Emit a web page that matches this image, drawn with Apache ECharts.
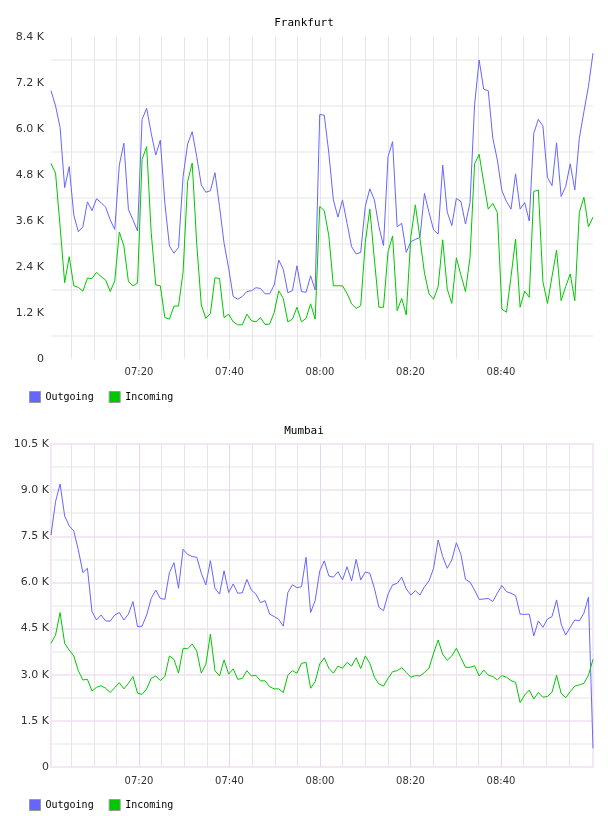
<!DOCTYPE html>
<html>
<head>
<meta charset="utf-8">
<script src="https://cdn.jsdelivr.net/npm/echarts@6/dist/echarts.min.js"></script>
<style>
  html, body { margin: 0; padding: 0; background: #fff; }
  #main { width: 608px; height: 816px; }
</style>
</head>
<body>
<div id="main"></div>
<script>
// one sample per minute, 07:00 .. 08:59
const times = [];
for (let m = 0; m < 120; m++) {
  const h = 7 + Math.floor(m / 60), mm = m % 60;
  times.push("0" + h + ":" + (mm < 10 ? "0" : "") + mm);
}
// axis labels every 20 minutes (07:00 .. 09:00)
const timeLabels = ["07:00", "07:20", "07:40", "08:00", "08:20", "08:40", "09:00"];

const frankfurtOut = [
  7000, 6600, 6040, 4470, 5020, 3760, 3320, 3450, 4100, 3870,
  4180, 4080, 3960, 3630, 3380, 5060, 5630, 3900, 3630, 3340,
  6250, 6540, 5890, 5320, 5710, 4060, 2950, 2760, 2910, 4760,
  5610, 5930, 5280, 4540, 4350, 4390, 4860, 3980, 3020, 2370,
  1630, 1560, 1630, 1760, 1780, 1860, 1840, 1700, 1700, 1930,
  2580, 2340, 1730, 1780, 2430, 1760, 1740, 2170, 1800, 6380,
  6360, 5370, 4150, 3700, 4150, 3540, 2930, 2740, 2780, 3980,
  4440, 4150, 3450, 2960, 5280, 5670, 3450, 3540, 2780, 3060,
  3120, 3170, 4320, 3820, 3370, 3260, 5060, 3830, 3480, 4190,
  4110, 3520, 4080, 6630, 7800, 7040, 7000, 5760, 5190, 4390,
  4110, 3910, 4830, 3910, 4080, 3600, 5890, 6250, 6080, 4740,
  4520, 5640, 4240, 4500, 5090, 4410, 5760, 6450, 7110, 7980
];
const frankfurtIn = [
  5100, 4850, 3450, 1990, 2670, 1910, 1870, 1770, 2110, 2100,
  2260, 2150, 2060, 1760, 2040, 3310, 2950, 2020, 1910, 1980,
  5210, 5540, 3300, 1930, 1910, 1080, 1040, 1380, 1380, 2270,
  4630, 5110, 3000, 1410, 1060, 1190, 2120, 2100, 1080, 1170,
  970, 890, 890, 1170, 1000, 970, 1080, 900, 910, 1210,
  1780, 1580, 970, 1040, 1350, 970, 1060, 1440, 1040, 3980,
  3870, 3210, 1910, 1910, 1910, 1710, 1440, 1320, 1390, 3040,
  3910, 2600, 1350, 1350, 2800, 3210, 1260, 1580, 1150, 3190,
  4020, 3150, 2240, 1700, 1560, 1890, 3110, 1820, 1450, 2640,
  2190, 1760, 2650, 5090, 5340, 4610, 3910, 4060, 3820, 1300,
  1220, 2150, 3130, 1350, 1770, 1610, 4370, 4410, 2020, 1450,
  2150, 2840, 1520, 1890, 2220, 1520, 3820, 4220, 3450, 3700
];
const mumbaiOut = [
  7540, 8630, 9200, 8160, 7840, 7670, 7060, 6320, 6460, 5050,
  4780, 4940, 4750, 4740, 4940, 5020, 4780, 4970, 5380, 4560,
  4580, 4940, 5480, 5750, 5480, 5450, 6320, 6640, 5810, 7080,
  6910, 6840, 6820, 6300, 5920, 6710, 5810, 5620, 6380, 5670,
  5950, 5650, 5660, 6100, 5750, 5620, 5340, 5410, 4970, 4890,
  4800, 4580, 5670, 5920, 5830, 5860, 6820, 5020, 5410, 6370,
  6700, 6210, 6170, 6350, 6080, 6510, 6050, 6750, 6080, 6340,
  6300, 5810, 5190, 5080, 5620, 5920, 5970, 6170, 5790, 5590,
  5730, 5590, 5860, 6050, 6460, 7380, 6840, 6460, 6730, 7290,
  6910, 6100, 6010, 5750, 5450, 5460, 5480, 5380, 5650, 5900,
  5700, 5650, 5570, 4970, 4960, 4970, 4260, 4750, 4540, 4810,
  4890, 5430, 4650, 4290, 4540, 4780, 4750, 5000, 5520, 610
];
const mumbaiIn = [
  4020, 4290, 5020, 4020, 3800, 3610, 3130, 2830, 2850, 2470,
  2590, 2640, 2560, 2420, 2580, 2740, 2540, 2720, 2940, 2400,
  2360, 2540, 2880, 2960, 2810, 2940, 3610, 3500, 3050, 3860,
  3840, 4000, 3770, 3050, 3340, 4320, 3130, 2960, 3480, 3020,
  3190, 2850, 2880, 3130, 2960, 2980, 2800, 2800, 2610, 2540,
  2540, 2420, 2980, 3130, 3050, 3370, 3400, 2560, 2770, 3350,
  3550, 3210, 3050, 3280, 3210, 3400, 3280, 3550, 3200, 3610,
  3370, 2920, 2700, 2630, 2880, 3100, 3130, 3230, 3070, 2920,
  2970, 2960, 3070, 3210, 3700, 4130, 3660, 3470, 3610, 3860,
  3550, 3240, 3240, 3290, 2960, 3150, 2990, 2940, 2830, 2970,
  2920, 2810, 2750, 2090, 2340, 2500, 2210, 2420, 2270, 2290,
  2430, 2980, 2400, 2250, 2450, 2630, 2670, 2720, 2980, 3500
];

const BLUE = "#6666ff";
const GREEN = "#00c800";
const GRAY_V = "#e6e6e6";
const GRAY_H = "#f2f2f2";
const PINK = "#f3e7f3";
const PINK_V = "#e8d6e8";
const labelFont = "DejaVu Sans";
const monoFont = "DejaVu Sans Mono";

function kLabel(step) {
  return function (v) {
    if (v % step !== 0) return "";
    if (v === 0) return "0";
    return (v / 1000).toFixed(1) + " K";
  };
}

// grid 0/2: time axes (gridlines + labels), grid 1/3: data
const tops = [37, 444];
const heights = [322, 323];

function axesFor(k, pink) {
  const g = k * 2;
  return {
    x: [
      {
        gridIndex: g, type: "value", min: 0, max: 120, interval: 5, position: "bottom",
        axisLine: { show: false }, axisTick: { show: false }, axisLabel: { show: false },
        splitLine: { show: true, showMinLine: false, showMaxLine: false,
          lineStyle: { color: GRAY_V, width: 1 } }
      },
      {
        gridIndex: g, type: "value", min: 0, max: 120, interval: 20, position: "bottom",
        axisLine: { show: false }, axisTick: { show: false },
        axisLabel: {
          show: true, showMinLabel: false, showMaxLabel: false,
          margin: k === 0 ? 8 : 9,
          fontFamily: labelFont, fontSize: 10, color: "#333",
          formatter: function (v) { return timeLabels[v / 20]; }
        },
        splitLine: { show: pink, showMinLine: false, showMaxLine: false,
          lineStyle: { color: PINK_V, width: 1 } }
      },
      {
        gridIndex: g + 1, type: "category", data: times, boundaryGap: false, show: false
      }
    ],
    y: [
      { gridIndex: g, type: "value", min: 0, max: 1, show: false },
      {
        gridIndex: g + 1, type: "value", min: 0,
        max: k === 0 ? 8400 : 10500, interval: k === 0 ? 600 : 750,
        axisLine: { show: false }, axisTick: { show: false },
        axisLabel: {
          margin: k === 0 ? 7 : 2,
          fontFamily: labelFont, fontSize: 11, color: "#333",
          formatter: kLabel(k === 0 ? 1200 : 1500)
        },
        splitLine: {
          show: true,
          lineStyle: { width: 2, color: k === 0 ? ["rgba(0,0,0,0)", GRAY_H] : [PINK, GRAY_H] }
        }
      }
    ]
  };
}

const a0 = axesFor(0, false);
const a1 = axesFor(1, true);

function lineSeries(name, color, data, xi, yi) {
  return {
    name: name, type: "line", data: data, xAxisIndex: xi, yAxisIndex: yi,
    showSymbol: false, symbol: "none",
    lineStyle: { color: color, width: 1 }, itemStyle: { color: color },
    emphasis: { disabled: true }
  };
}

const legendBase = {
  left: 24, orient: "horizontal", icon: "rect",
  itemWidth: 11, itemHeight: 11, itemGap: 15,
  itemStyle: { borderColor: "#999", borderWidth: 1 },
  textStyle: { fontFamily: monoFont, fontSize: 10, color: "#000" },
  data: ["Outgoing", "Incoming"]
};

const option = {
  animation: false,
  backgroundColor: "#fff",
  title: [
    { text: "Frankfurt", left: "center", top: 13,
      textStyle: { fontFamily: monoFont, fontSize: 11, fontWeight: "normal", color: "#000" } },
    { text: "Mumbai", left: "center", top: 421,
      textStyle: { fontFamily: monoFont, fontSize: 11, fontWeight: "normal", color: "#000" } }
  ],
  legend: [
    Object.assign({}, legendBase, { top: 386 }),
    Object.assign({}, legendBase, { top: 794 })
  ],
  grid: [
    { left: 48.5, top: tops[0], width: 543, height: heights[0] },
    { left: 51, top: tops[0], width: 542, height: heights[0] },
    { left: 48.5, top: tops[1], width: 543, height: heights[1] },
    { left: 51, top: tops[1], width: 542, height: heights[1],
      show: true, borderColor: PINK, borderWidth: 2, backgroundColor: "transparent" }
  ],
  xAxis: a0.x.concat(a1.x),
  yAxis: a0.y.concat(a1.y),
  series: [
    lineSeries("Outgoing", BLUE, frankfurtOut, 2, 1),
    lineSeries("Incoming", GREEN, frankfurtIn, 2, 1),
    lineSeries("Outgoing", BLUE, mumbaiOut, 5, 3),
    lineSeries("Incoming", GREEN, mumbaiIn, 5, 3)
  ]
};

const chart = echarts.init(document.getElementById("main"), null, { renderer: "canvas" });
chart.setOption(option);
window.addEventListener("resize", function () { chart.resize(); });
</script>
</body>
</html>
